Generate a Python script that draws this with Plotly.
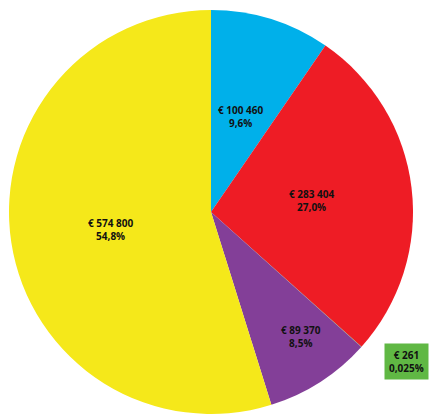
import plotly.graph_objects as go

# Slice data, clockwise from 12 o'clock
amounts = [100460, 283404, 261, 89370, 574800]
pct_decimals = [1, 1, 3, 1, 1]
slice_colors = ["#00B0EA", "#EE1C25", "#60B844", "#833F98", "#F5E81A"]

# Label centre points in pixels (x from left, y from top) of the 431x414 canvas
label_px = [(241, 117), (312, 201), (406, 361), (301, 336), (111, 229)]

W, H = 431, 414
total = sum(amounts)


def euro(v):
    return "€ " + f"{v:,}".replace(",", " ")


def pct(v, d):
    return f"{v / total * 100:.{d}f}".replace(".", ",") + "%"


labels = [f"{euro(v)}<br>{pct(v, d)}" for v, d in zip(amounts, pct_decimals)]

fig = go.Figure(
    go.Pie(
        values=amounts,
        marker=dict(colors=slice_colors, line=dict(width=0)),
        sort=False,
        direction="clockwise",
        rotation=0,
        textinfo="none",
        hoverinfo="none",
        showlegend=False,
        domain=dict(x=[8 / W, 414 / W], y=[0, 1 - 10 / H]),
    )
)

for i, (txt, (px, py)) in enumerate(zip(labels, label_px)):
    boxed = i == 2
    fig.add_annotation(
        x=px / W,
        y=1 - py / H,
        xref="paper",
        yref="paper",
        xanchor="center",
        yanchor="middle",
        text=f"<b>{txt}</b>",
        showarrow=False,
        font=dict(family="Open Sans", size=10, color="#111111"),
        bgcolor=slice_colors[i] if boxed else None,
        borderpad=4 if boxed else 0,
        align="center",
    )

fig.update_layout(
    width=W,
    height=H,
    margin=dict(l=0, r=0, t=0, b=0),
    paper_bgcolor="white",
    plot_bgcolor="white",
)

fig.write_html("out.html")
